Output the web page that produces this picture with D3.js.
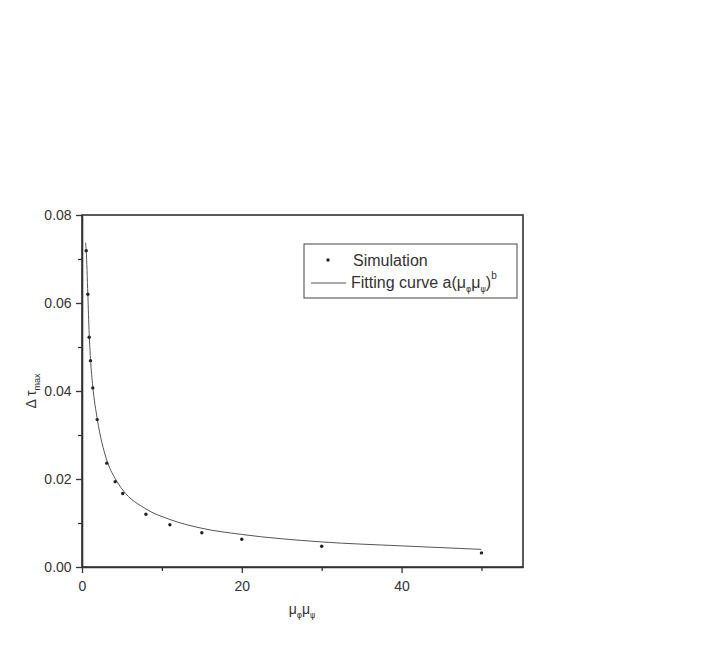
<!DOCTYPE html>
<html>
<head>
<meta charset="utf-8">
<script src="https://cdn.jsdelivr.net/npm/d3@7"></script>
<style>
  body { margin: 0; background: #fff; }
  text { font-family: "Liberation Sans", Arial, sans-serif; fill: #333; }
  .greek { font-family: "DejaVu Sans", sans-serif; }
</style>
</head>
<body>
<svg id="chart" width="726" height="648"></svg>
<script>
// simulation points
var simX = [0.53, 0.73, 0.9, 1.06, 1.35, 1.9, 3.1, 4.15, 5.1, 8, 11, 15, 20, 30, 50];
var simY = [0.0719, 0.0620, 0.0522, 0.0469, 0.0407, 0.0335, 0.0236, 0.0194, 0.0167, 0.0120, 0.0096, 0.0078, 0.0063, 0.0047, 0.0032];

// fitting curve
var fitX = [0.45, 0.53, 0.73, 0.9, 1.06, 1.35, 1.9, 3.1, 4.15, 5.1, 8, 11, 15, 20, 30, 40, 50];
var fitY = [0.0737, 0.0718, 0.0620, 0.0530, 0.0474, 0.0410, 0.0338, 0.0243, 0.0201, 0.0175, 0.0132, 0.0108, 0.0088, 0.0074, 0.0057, 0.0048, 0.0040];

var xTicks = [0, 10, 20, 30, 40, 50];
var yTicks = [0, 0.01, 0.02, 0.03, 0.04, 0.05, 0.06, 0.07, 0.08];

var margin = {top: 215, left: 82},
    width = 523 - 82,
    height = 567 - 215;

var svg = d3.select("#chart");
var g = svg.append("g")
    .attr("transform", "translate(" + margin.left + "," + margin.top + ")");

var x = d3.scaleLinear().domain([0, 55.2]).range([0, width]);
var y = d3.scaleLinear().domain([0, 0.08]).range([height, 0]);

// frame
g.append("rect")
    .attr("width", width).attr("height", height)
    .attr("fill", "none").attr("stroke", "#333").attr("stroke-width", 1.6);

var xAxis = g.append("g")
    .attr("transform", "translate(0," + height + ")")
    .call(d3.axisBottom(x).tickValues(xTicks).tickSize(6).tickSizeOuter(0)
        .tickFormat(function(d) { return d % 20 === 0 ? d : ""; }));

var yAxis = g.append("g")
    .call(d3.axisLeft(y).tickValues(yTicks).tickSize(6).tickSizeOuter(0)
        .tickFormat(function(d, i) { return i % 2 === 0 ? d3.format(".2f")(d) : ""; }));

[xAxis, yAxis].forEach(function(a) {
    a.select(".domain").attr("stroke", "#333").attr("stroke-width", 1.6);
    a.selectAll(".tick line").attr("stroke", "#333").attr("stroke-width", 1.3);
    a.selectAll(".tick text").attr("font-size", 14).attr("fill", "#333")
        .attr("font-family", "Liberation Sans, Arial, sans-serif");
});
xAxis.selectAll(".tick text").attr("dy", "1.05em");
yAxis.selectAll(".tick text").attr("dx", "-0.1em");
yAxis.selectAll(".tick").filter(function(d, i) { return i % 2 === 1; })
    .select("line").attr("x2", -4);
xAxis.selectAll(".tick").filter(function(d, i) { return i % 2 === 1; })
    .select("line").attr("y2", 4);

// fitting curve
var fit = fitX.map(function(d, i) { return [d, fitY[i]]; });
g.append("path")
    .datum(fit)
    .attr("fill", "none")
    .attr("stroke", "#555")
    .attr("stroke-width", 1)
    .attr("d", d3.line()
        .x(function(d) { return x(d[0]); })
        .y(function(d) { return y(d[1]); })
        .curve(d3.curveMonotoneX));

// simulation dots
g.selectAll(".dot")
    .data(simX.map(function(d, i) { return [d, simY[i]]; }))
    .enter().append("circle")
    .attr("class", "dot")
    .attr("cx", function(d) { return x(d[0]); })
    .attr("cy", function(d) { return y(d[1]); })
    .attr("r", 1.7)
    .attr("fill", "#222");

// legend
var lg = svg.append("g").attr("transform", "translate(304,244)");
lg.append("rect")
    .attr("width", 213).attr("height", 54)
    .attr("fill", "#fff").attr("stroke", "#444").attr("stroke-width", 1);
lg.append("circle").attr("cx", 24).attr("cy", 16).attr("r", 1.7).attr("fill", "#222");
lg.append("text").attr("x", 49).attr("y", 22).attr("font-size", 16).text("Simulation");
lg.append("line").attr("x1", 7).attr("x2", 42).attr("y1", 39).attr("y2", 39)
    .attr("stroke", "#555").attr("stroke-width", 1);
var ft = lg.append("text").attr("x", 47).attr("y", 44).attr("font-size", 16);
ft.append("tspan").text("Fitting curve a(");
ft.append("tspan").text("μ");
ft.append("tspan").attr("class", "greek").attr("font-size", 8).attr("dy", 4).text("φ");
ft.append("tspan").attr("dy", -4).text("μ");
ft.append("tspan").attr("class", "greek").attr("font-size", 8).attr("dy", 4).text("ψ");
ft.append("tspan").attr("dy", -4).text(")");
ft.append("tspan").attr("font-size", 10).attr("dy", -9).text("b");

// axis titles
var xt = svg.append("text").attr("x", 302).attr("y", 614)
    .attr("text-anchor", "middle").attr("font-size", 14);
xt.append("tspan").text("μ");
xt.append("tspan").attr("class", "greek").attr("font-size", 8).attr("dy", 4).text("φ");
xt.append("tspan").attr("dy", -4).text("μ");
xt.append("tspan").attr("class", "greek").attr("font-size", 8).attr("dy", 4).text("ψ");

var yt = svg.append("text")
    .attr("transform", "translate(36,391) rotate(-90)")
    .attr("text-anchor", "middle").attr("font-size", 14);
yt.append("tspan").text("Δ τ");
yt.append("tspan").attr("font-size", 9).attr("dy", 4).text("max");
</script>
</body>
</html>
